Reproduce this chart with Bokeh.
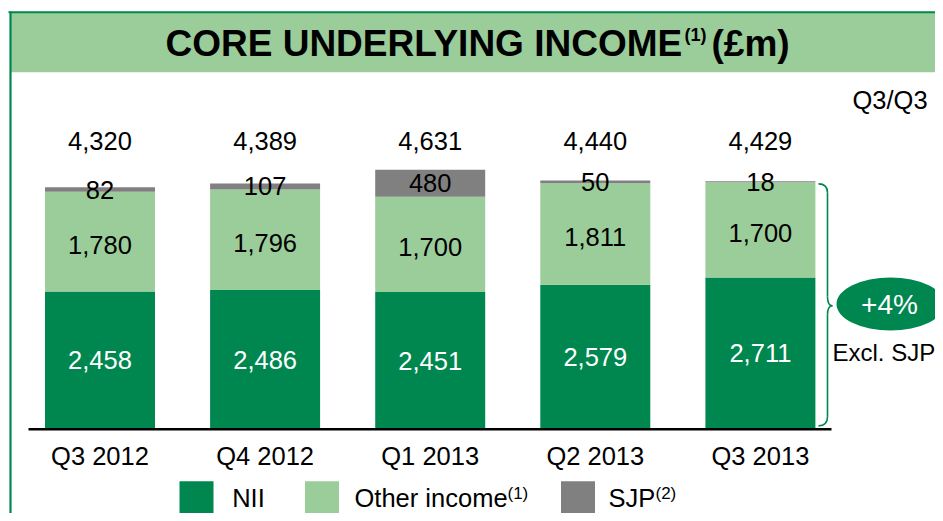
from bokeh.plotting import figure
from bokeh.models import Range1d
from bokeh.embed import file_html
from bokeh.resources import INLINE
from bokeh.core.properties import value

# ---------------- data ----------------
categories = ["Q3 2012", "Q4 2012", "Q1 2013", "Q2 2013", "Q3 2013"]
nii = [2458, 2486, 2451, 2579, 2711]
other_income = [1780, 1796, 1700, 1811, 1700]
sjp = [82, 107, 480, 50, 18]
totals = [4320, 4389, 4631, 4440, 4429]
series_names = ["NII", "Other income", "SJP"]
series_notes = ["", "(1)", "(2)"]
title_main = "CORE UNDERLYING INCOME"
title_note = "(1)"
title_unit = "(£m)"
period_label = "Q3/Q3"
growth_label = "+4%"
growth_note = "Excl. SJP"

# ---------------- styles ----------------
DARK = "#00874F"
LIGHT = "#9BCD9A"
GRAY = "#808080"
FONT = value("Liberation Sans")
W, H = 935, 513

# picture-pixel -> data helpers (layout only)
CX0, CDX = 99.5, 165.1      # x of first category centre, px per category
BASE, PPU = 428.7, 0.056    # y of zero line, px per £m


def X(wx):
    return (wx - CX0) / CDX


def Y(wy):
    return (BASE - wy) / PPU


p = figure(width=W, height=H, x_range=Range1d(X(0), X(W)),
           y_range=Range1d(Y(H), Y(0)), output_backend="svg",
           toolbar_location=None, min_border=0,
           x_axis_location=None, y_axis_location=None)
p.grid.visible = False
p.outline_line_color = None
p.background_fill_color = "white"
p.border_fill_color = "white"

xs = list(range(len(categories)))
stack1 = [a + b for a, b in zip(nii, other_income)]
stack2 = [a + b for a, b in zip(stack1, sjp)]
bw = 110 / CDX

p.vbar(x=xs, bottom=0, top=nii, width=bw, fill_color=DARK, line_color=None)
p.vbar(x=xs, bottom=nii, top=stack1, width=bw, fill_color=LIGHT, line_color=None)
p.vbar(x=xs, bottom=stack1, top=stack2, width=bw, fill_color=GRAY, line_color=None)

# baseline
p.segment(x0=[X(28)], y0=[0], x1=[X(831)], y1=[0], line_color="black", line_width=2.5)

lbl = dict(text_align="center", text_baseline="middle", text_font=FONT,
           text_font_size="25.5px")
p.text(x=xs, y=[v / 2 for v in nii], text=[f"{v:,}" for v in nii],
       text_color="white", **lbl)
p.text(x=xs, y=[a + b / 2 for a, b in zip(nii, other_income)],
       text=[f"{v:,}" for v in other_income], text_color="black", y_offset=3, **lbl)
p.text(x=xs, y=[a + b / 2 for a, b in zip(stack1, sjp)],
       text=[f"{v:,}" for v in sjp], text_color="black", **lbl)
p.text(x=xs, y=[Y(140.5)] * len(xs), text=[f"{v:,}" for v in totals],
       text_color="black", **lbl)
p.text(x=xs, y=[Y(455.5)] * len(xs), text=categories, text_color="black", **lbl)

# frame and title band
p.quad(left=[X(10)], right=[X(960)], top=[Y(12)], bottom=[Y(71.7)],
       fill_color=LIGHT, line_color=None)
p.segment(x0=[X(8)], y0=[Y(11.8)], x1=[X(960)], y1=[Y(11.8)], line_color=DARK, line_width=2)
p.segment(x0=[X(10)], y0=[Y(11)], x1=[X(10)], y1=[Y(530)], line_color=DARK, line_width=2.2)

tfont = dict(text_font=FONT, text_font_style="bold", text_color="black",
             text_baseline="middle", text_align="left")
p.text(x=[X(165)], y=[Y(42.5)], text=[title_main], text_font_size="37px", **tfont)
p.text(x=[X(684)], y=[Y(34.5)], text=[title_note], text_font_size="18px", **tfont)
p.text(x=[X(711)], y=[Y(42.5)], text=[title_unit], text_font_size="37px", **tfont)

p.text(x=[X(852)], y=[Y(99.5)], text=[period_label], text_align="left",
       text_baseline="middle", text_font=FONT, text_font_size="25.5px", text_color="black")

# brace around Q3 2013 NII + other income
top = stack1[-1] - 30
bot = 60
mid = stack1[-1] / 2
xl, xm, xt = X(818), X(827), X(832)
ry = 9 / PPU
p.quadratic(x0=[xl, xm, xt, xm], y0=[top, mid + ry, mid, bot + ry],
            x1=[xm, xt, xm, xl], y1=[top - ry, mid, mid - ry, bot],
            cx=[xm, xm, xm, xm], cy=[top, mid, mid, bot],
            line_color=DARK, line_width=1.6)
p.segment(x0=[xm, xm], y0=[top - ry, mid - ry], x1=[xm, xm], y1=[mid + ry, bot + ry],
          line_color=DARK, line_width=1.6)

p.ellipse(x=[X(890)], y=[Y(303.5)], width=108, height=53, width_units="screen",
          height_units="screen", fill_color=DARK, line_color=None)
p.text(x=[X(889)], y=[Y(304)], text=[growth_label], text_color="white",
       text_align="center", text_baseline="middle", text_font=FONT, text_font_size="28px")
p.text(x=[X(832)], y=[Y(352)], text=[growth_note], text_color="black",
       text_align="left", text_baseline="middle", text_font=FONT, text_font_size="24px")

# legend
sq_x = [X(196), X(321.5), X(577.5)]
p.rect(x=sq_x, y=[Y(497.7)] * 3, width=34, height=34, width_units="screen",
       height_units="screen", fill_color=[DARK, LIGHT, GRAY], line_color=None)
p.text(x=[X(231.7), X(354), X(608)], y=[Y(497.5)] * 3, text=series_names,
       text_align="left", text_baseline="middle", text_font=FONT,
       text_font_size="25.5px", text_color="black")
p.text(x=[X(507), X(655)], y=[Y(492.5)] * 2, text=series_notes[1:],
       text_align="left", text_baseline="middle", text_font=FONT,
       text_font_size="17px", text_color="black")

open("out.html", "w").write(file_html(p, INLINE))
